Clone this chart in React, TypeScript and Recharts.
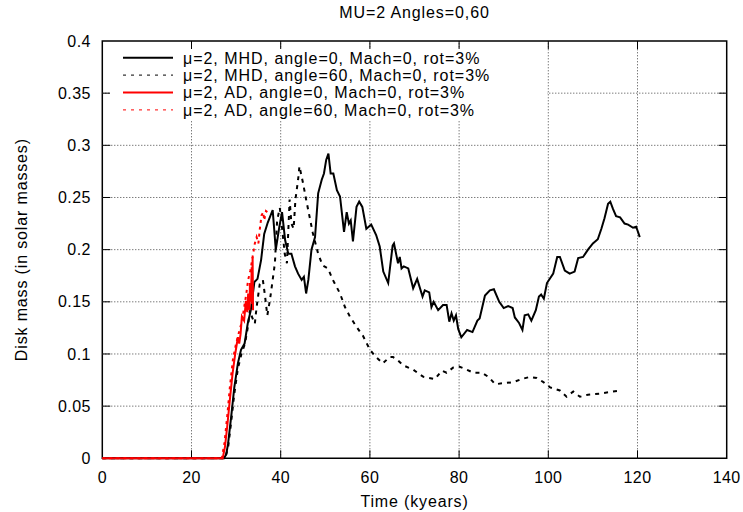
import {
  LineChart,
  Line,
  XAxis,
  YAxis,
  ReferenceArea,
  ReferenceLine,
  Legend,
} from "recharts";

// MHD, angle=0
const mhd0Time = [
  0, 27.3, 27.8, 28.2, 28.9, 29.6, 30.4, 31.1, 31.9, 32.6, 33.3, 34.1, 34.8, 35.6, 36.3, 37.1,
  38.2, 38.9, 39.7, 40.3, 41.0, 41.7, 42.4, 43.2, 43.9, 44.7, 45.2, 45.7, 46.2, 46.9, 47.7, 48.4,
  49.2, 49.7, 50.2, 50.7, 51.2, 51.8, 52.6, 53.3, 54.2, 54.8, 55.3, 55.7, 56.2, 57.0, 57.6, 58.3,
  59.2, 60.3, 61.4, 62.2, 63.0, 64.1, 65.1, 65.4, 66.3, 66.7, 67.1, 67.6, 68.6, 69.7, 70.6, 71.8,
  72.3, 73.3, 73.8, 74.3, 75.3, 76.4, 77.2, 77.8, 78.3, 78.8, 79.3, 79.8, 80.5, 81.8, 83.0, 84.1,
  84.6, 85.8, 86.9, 87.8, 89.0, 90.0, 91.0, 92.0, 92.5, 93.4, 94.2, 94.7, 95.5, 96.2, 97.2, 97.9,
  98.4, 99.0, 99.7, 101.1, 102.0, 102.6, 103.7, 104.8, 105.9, 106.7, 107.8, 108.9, 110.0, 111.1,
  111.9, 112.6, 113.4, 113.9, 114.5, 115.2, 116.1, 117.1, 117.9, 119.0, 119.7, 120.2, 120.5,
];
const mhd0Mass = [
  0, 0, 0.004, 0.014, 0.04, 0.068, 0.091, 0.104, 0.11, 0.129, 0.142, 0.169, 0.172, 0.19, 0.215, 0.226,
  0.238, 0.2, 0.222, 0.236, 0.209, 0.196, 0.196, 0.184, 0.177, 0.171, 0.174, 0.158, 0.171, 0.2, 0.212, 0.254,
  0.267, 0.273, 0.286, 0.292, 0.273, 0.273, 0.257, 0.251, 0.217, 0.236, 0.225, 0.228, 0.208, 0.241, 0.246, 0.241,
  0.22, 0.224, 0.214, 0.203, 0.179, 0.168, 0.204, 0.206, 0.187, 0.193, 0.182, 0.184, 0.182, 0.163, 0.172, 0.155,
  0.161, 0.159, 0.145, 0.15, 0.142, 0.147, 0.147, 0.131, 0.139, 0.132, 0.137, 0.124, 0.116, 0.123, 0.121, 0.132,
  0.134, 0.156, 0.161, 0.162, 0.15, 0.144, 0.146, 0.144, 0.135, 0.13, 0.123, 0.137, 0.138, 0.132, 0.142, 0.155,
  0.157, 0.153, 0.168, 0.177, 0.193, 0.193, 0.18, 0.177, 0.179, 0.192, 0.193, 0.2, 0.206, 0.21,
  0.22, 0.23, 0.244, 0.246, 0.239, 0.232, 0.231, 0.225, 0.224, 0.221, 0.222, 0.216, 0.212,
];

// MHD, angle=60
const mhd60Time = [
  0, 27.5, 28.2, 28.9, 29.6, 30.4, 31.2, 32.0, 32.6, 33.1, 33.6, 34.2, 34.6, 35.3, 36.0, 36.5,
  37.0, 37.6, 38.2, 38.7, 39.2, 39.8, 40.4, 40.9, 41.4, 42.0, 42.4, 42.9, 43.3, 43.9, 44.2, 45.0,
  45.7, 47.2, 48.4, 49.4, 50.6, 51.7, 53.3, 54.4, 55.5, 57.0, 58.5, 60.0, 61.4, 62.9, 64.4, 65.2,
  66.0, 67.5, 69.7, 72.0, 74.6, 76.1, 77.2, 78.7, 80.0, 81.7, 83.2, 85.1, 86.6, 88.1, 89.9, 92.2,
  94.0, 95.9, 97.4, 98.9, 100.4, 102.6, 104.1, 105.6, 107.1, 108.9, 111.5, 114.5, 116.4,
];
const mhd60Mass = [
  0, 0, 0.01, 0.035, 0.062, 0.086, 0.1, 0.11, 0.125, 0.142, 0.135, 0.129, 0.145, 0.167, 0.171, 0.155,
  0.137, 0.152, 0.171, 0.187, 0.228, 0.24, 0.217, 0.196, 0.187, 0.248, 0.225, 0.22, 0.248, 0.267, 0.28, 0.264,
  0.248, 0.216, 0.196, 0.185, 0.182, 0.171, 0.158, 0.145, 0.136, 0.126, 0.117, 0.104, 0.097, 0.091, 0.097, 0.097,
  0.095, 0.089, 0.085, 0.078, 0.076, 0.084, 0.082, 0.087, 0.088, 0.085, 0.082, 0.082, 0.078, 0.071, 0.072, 0.073,
  0.076, 0.078, 0.077, 0.073, 0.068, 0.065, 0.059, 0.064, 0.059, 0.061, 0.062, 0.064, 0.065,
];

// AD, angle=0
const ad0Time = [
  0, 27.0, 27.5, 28.0, 28.6, 29.2, 29.8, 30.4, 30.7, 31.0, 31.3, 31.8, 32.2, 32.5, 32.7, 33.0,
  33.1, 33.3, 33.5, 33.6, 33.7, 33.8,
];
const ad0Mass = [
  0, 0, 0.011, 0.03, 0.056, 0.081, 0.1, 0.116, 0.11, 0.119, 0.136, 0.132, 0.151, 0.14, 0.158, 0.142,
  0.168, 0.15, 0.183, 0.148, 0.193, 0.142,
];

// AD, angle=60
const ad60Time = [
  0, 26.8, 27.4, 28.0, 28.6, 29.3, 30.0, 30.6, 31.1, 31.6, 32.3, 32.7, 33.2, 33.7, 34.2, 34.6,
  35.0, 35.3, 35.7, 36.1, 36.3, 36.7, 37.0,
];
const ad60Mass = [
  0, 0, 0.015, 0.04, 0.068, 0.095, 0.11, 0.12, 0.128, 0.139, 0.158, 0.171, 0.18, 0.193, 0.206, 0.212,
  0.206, 0.219, 0.233, 0.236, 0.228, 0.237, 0.236,
];

const xTicks = [0, 20, 40, 60, 80, 100, 120, 140];
const yTicks = [0, 0.05, 0.1, 0.15, 0.2, 0.25, 0.3, 0.35, 0.4];

const toPoints = (t: number[], m: number[]) => t.map((time, i) => ({ time, mass: m[i] }));

const SERIES = [
  { key: "mhd0", name: "μ=2, MHD, angle=0, Mach=0, rot=3%", data: toPoints(mhd0Time, mhd0Mass), color: "#000000", dash: undefined, keyDash: undefined, keyWidth: 2 },
  { key: "mhd60", name: "μ=2, MHD, angle=60, Mach=0, rot=3%", data: toPoints(mhd60Time, mhd60Mass), color: "#000000", dash: "4 5", keyDash: "3 5", keyWidth: 1 },
  { key: "ad0", name: "μ=2, AD, angle=0, Mach=0, rot=3%", data: toPoints(ad0Time, ad0Mass), color: "#ff0000", dash: undefined, keyDash: undefined, keyWidth: 2 },
  { key: "ad60", name: "μ=2, AD, angle=60, Mach=0, rot=3%", data: toPoints(ad60Time, ad60Mass), color: "#ff0000", dash: "3 4", keyDash: "3 5", keyWidth: 1 },
];

const FONT = "'Liberation Sans', Arial, Helvetica, sans-serif";
const X_MAX = 140;
const Y_MAX = 0.4;
const TICK_X = 1.8; // inward tick length in kyears
const TICK_Y = 0.0077; // inward tick length in solar masses
const GRID = { stroke: "#444", strokeDasharray: "1 2", strokeWidth: 1 };

// gnuplot-style key: opaque white box, sample line then label
function KeyBox() {
  const rowH = 17.4;
  return (
    <svg width={437} height={71} style={{ display: "block" }}>
      <rect x={0} y={0} width={437} height={71} fill="#fff" />
      {SERIES.map((s, i) => {
        const cy = 8.7 + i * rowH;
        return (
          <g key={s.key}>
            <line x1={13} y1={cy} x2={63} y2={cy} stroke={s.color} strokeWidth={s.keyWidth} strokeDasharray={s.keyDash} />
            <text x={73} y={cy + 5.8} fontSize={16} fill="#000" letterSpacing={0.97} fontFamily={FONT}>
              {s.name}
            </text>
          </g>
        );
      })}
    </svg>
  );
}

export default function App() {
  return (
    <div style={{ position: "absolute", left: 0, top: 0, width: 743, height: 512, fontFamily: FONT, background: "#fff" }}>
      <div
        style={{
          position: "absolute",
          left: 102.3,
          width: 624.4,
          top: 4,
          textAlign: "center",
          fontSize: 16,
          letterSpacing: 0.9,
          lineHeight: "18px",
        }}
      >
        MU=2 Angles=0,60
      </div>
      <LineChart width={743} height={512} margin={{ top: 41, right: 16.3, bottom: 0, left: 0 }}>
        <XAxis
          type="number"
          dataKey="time"
          domain={[0, X_MAX]}
          ticks={xTicks}
          height={53.7}
          tickLine={false}
          axisLine={false}
          tickSize={6}
          tickMargin={7}
          tick={{ fill: "#000", fontSize: 16, letterSpacing: 0.4 }}
          label={{ value: "Time (kyears)", position: "insideBottom", offset: 5, fill: "#000", fontSize: 16, letterSpacing: 0.85 }}
        />
        <YAxis
          type="number"
          domain={[0, Y_MAX]}
          ticks={yTicks}
          width={102.3}
          tickLine={false}
          axisLine={false}
          tickSize={6}
          tickMargin={5.5}
          tick={{ fill: "#000", fontSize: 16, letterSpacing: 0.4 }}
          tickFormatter={(v: number) => String(v)}
          label={{
            value: "Disk mass (in solar masses)",
            angle: -90,
            position: "center",
            dx: -30,
            fill: "#000",
            fontSize: 16,
            letterSpacing: 0.85,
          }}
        />
        {xTicks.slice(1, -1).map((t) => (
          <ReferenceLine key={`gx${t}`} x={t} {...GRID} />
        ))}
        {yTicks.slice(1, -1).map((v) => (
          <ReferenceLine key={`gy${v}`} y={v} {...GRID} />
        ))}
        {xTicks.slice(1, -1).map((t) => (
          <ReferenceLine key={`xb${t}`} segment={[{ x: t, y: 0 }, { x: t, y: TICK_Y }]} stroke="#000" />
        ))}
        {xTicks.slice(1, -1).map((t) => (
          <ReferenceLine key={`xt${t}`} segment={[{ x: t, y: Y_MAX }, { x: t, y: Y_MAX - TICK_Y }]} stroke="#000" />
        ))}
        {yTicks.slice(1, -1).map((v) => (
          <ReferenceLine key={`yl${v}`} segment={[{ x: 0, y: v }, { x: TICK_X, y: v }]} stroke="#000" />
        ))}
        {yTicks.slice(1, -1).map((v) => (
          <ReferenceLine key={`yr${v}`} segment={[{ x: X_MAX, y: v }, { x: X_MAX - TICK_X, y: v }]} stroke="#000" />
        ))}
        <ReferenceArea x1={0} x2={X_MAX} y1={0} y2={Y_MAX} fill="none" stroke="#000" strokeWidth={1.5} />
        {SERIES.map((s) => (
          <Line
            key={s.key}
            data={s.data}
            dataKey="mass"
            name={s.name}
            type="linear"
            stroke={s.color}
            strokeWidth={2}
            strokeDasharray={s.dash}
            dot={false}
            activeDot={false}
            isAnimationActive={false}
          />
        ))}
        <Legend
          layout="vertical"
          align="center"
          verticalAlign="middle"
          wrapperStyle={{ left: 110, top: 49, width: 437, height: 71 }}
          content={() => <KeyBox />}
        />
      </LineChart>
    </div>
  );
}
